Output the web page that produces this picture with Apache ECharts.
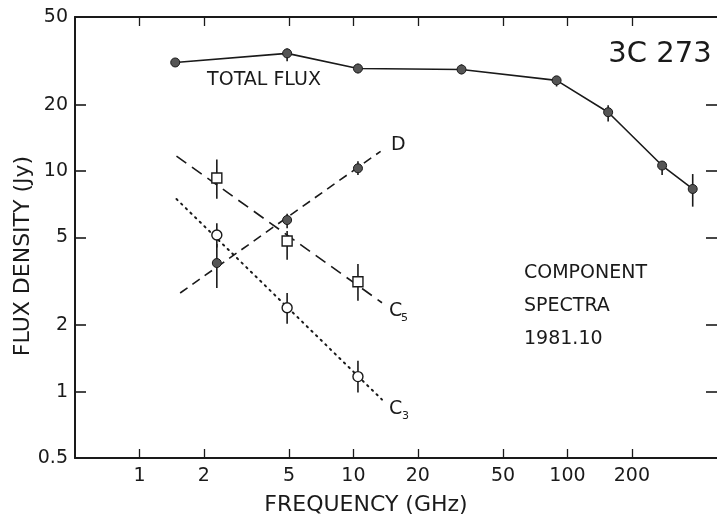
<!DOCTYPE html>
<html><head><meta charset="utf-8">
<script src="https://cdn.jsdelivr.net/npm/echarts@6/dist/echarts.min.js"></script>
<style>html,body{margin:0;padding:0;background:#fff}#c{width:717px;height:519px}</style>
</head><body><div id="c"></div>
<script>
// ---- data ----
const xTicks = [1, 2, 5, 10, 20, 50, 100, 200];
const yLabels = [0.5, 1, 2, 5, 10, 20, 50];
const yTicks = [1, 2, 5, 10, 20];

const totalFreq = [1.47, 4.9, 10.5, 32, 89, 155, 277, 385];
const totalFlux = [31.1, 34.2, 29.2, 28.9, 25.8, 18.5, 10.6, 8.3];
const totalLo   = [31.1, 31.5, 27.8, 27.5, 24.2, 16.8, 9.6, 6.9];
const totalHi   = [31.1, 36.0, 30.7, 30.5, 26.7, 19.9, 11.1, 9.7];

const compFreq = [2.3, 4.9, 10.5];
const dFlux  = [3.83, 6.0, 10.3];
const dLo    = [2.95, 5.5, 9.6];
const dHi    = [4.67, 6.4, 11.1];
const c5Flux = [9.3, 4.82, 3.15];
const c5Lo   = [7.5, 3.96, 2.58];
const c5Hi   = [11.3, 5.35, 3.79];
const c3Flux = [5.13, 2.40, 1.17];
const c3Lo   = [4.5, 2.03, 0.99];
const c3Hi   = [5.8, 2.8, 1.38];

const dFitX  = [1.55, 13.4];
const dFitY  = [2.8, 12.3];
const c5FitX = [1.49, 13.6];
const c5FitY = [11.7, 2.53];
const c3FitX = [1.49, 13.6];
const c3FitY = [7.47, 0.92];

// ---- helpers ----
const zip = (a, b) => a.map((v, i) => [v, b[i]]);
const errData = (x, lo, hi) => x.map((v, i) => [v, lo[i], hi[i]]);
const FONT = 'DejaVu Sans';
const INK = '#1a1a1a';

function errSeries(data) {
  return {
    type: 'custom', xAxisIndex: 0, yAxisIndex: 0, z: 1, silent: true,
    data: data,
    renderItem: function (params, api) {
      const p1 = api.coord([api.value(0), api.value(1)]);
      const p2 = api.coord([api.value(0), api.value(2)]);
      return { type: 'line', shape: { x1: p1[0], y1: p1[1], x2: p2[0], y2: p2[1] },
        style: { stroke: INK, lineWidth: 1.6 } };
    }
  };
}

const chart = echarts.init(document.getElementById('c'), null, { renderer: 'canvas' });
const axX = (pos, show) => ({
  type: 'log', logBase: 10, min: 0.5, max: 500, position: pos,
  axisLine: { show: true, lineStyle: { color: INK, width: 2 } },
  axisTick: { show: true, inside: true, length: 9, customValues: xTicks, lineStyle: { color: INK, width: 1.3 } },
  axisLabel: { show: show, customValues: xTicks, margin: 9, color: INK, fontFamily: FONT, fontSize: 19 },
  splitLine: { show: false }, minorTick: { show: false }
});
const axY = (pos, show) => ({
  type: 'log', logBase: 10, min: 0.5, max: 50, position: pos,
  axisLine: { show: show, lineStyle: { color: INK, width: 2 } },
  axisTick: { show: true, inside: true, length: 11, customValues: yTicks, lineStyle: { color: INK, width: 1.6 } },
  axisLabel: { show: show, customValues: yLabels, margin: 7, color: INK, fontFamily: FONT, fontSize: 19 },
  splitLine: { show: false }, minorTick: { show: false }
});

const option = {
  animation: false,
  backgroundColor: '#fff',
  grid: { left: 75, right: -3, top: 17, bottom: 61 },
  xAxis: [axX('bottom', true), axX('top', false)],
  yAxis: [axY('left', true), axY('right', false)],
  series: [
    errSeries(errData(totalFreq, totalLo, totalHi)),
    errSeries(errData(compFreq, dLo, dHi)),
    errSeries(errData(compFreq, c5Lo, c5Hi)),
    errSeries(errData(compFreq, c3Lo, c3Hi)),
    { type: 'line', z: 2, data: zip(dFitX, dFitY), symbol: 'none',
      lineStyle: { color: INK, width: 1.6, type: [9, 6] } },
    { type: 'line', z: 2, data: zip(c5FitX, c5FitY), symbol: 'none',
      lineStyle: { color: INK, width: 1.6, type: [12, 7] } },
    { type: 'line', z: 2, data: zip(c3FitX, c3FitY), symbol: 'none',
      lineStyle: { color: INK, width: 2, type: [1.5, 5], cap: 'round' } },
    { type: 'line', z: 3, data: zip(totalFreq, totalFlux), symbol: 'circle', symbolSize: 9,
      itemStyle: { color: '#555', borderColor: INK, borderWidth: 1 },
      lineStyle: { color: INK, width: 1.6 } },
    { type: 'scatter', z: 4, data: zip(compFreq, dFlux), symbol: 'circle', symbolSize: 9,
      itemStyle: { color: '#555', borderColor: INK, borderWidth: 1, opacity: 1 } },
    { type: 'scatter', z: 4, data: zip(compFreq, c5Flux), symbol: 'rect', symbolSize: 10,
      itemStyle: { color: '#fff', borderColor: INK, borderWidth: 1.4, opacity: 1 } },
    { type: 'scatter', z: 4, data: zip(compFreq, c3Flux), symbol: 'circle', symbolSize: 10,
      itemStyle: { color: '#fff', borderColor: INK, borderWidth: 1.4, opacity: 1 } }
  ],
  graphic: [
    { type: 'text', x: 366, y: 505, style: { text: 'FREQUENCY (GHz)', fill: INK, font: '22px "DejaVu Sans"', textAlign: 'center', textVerticalAlign: 'middle' } },
    { type: 'text', x: 23, y: 256, rotation: Math.PI / 2, style: { text: 'FLUX DENSITY (Jy)', fill: INK, font: '22px "DejaVu Sans"', textAlign: 'center', textVerticalAlign: 'middle' } },
    { type: 'text', x: 264, y: 80, style: { text: 'TOTAL FLUX', fill: INK, font: '19px "DejaVu Sans"', textAlign: 'center', textVerticalAlign: 'middle' } },
    { type: 'text', x: 660, y: 54, style: { text: '3C 273', fill: INK, font: '29px "DejaVu Sans"', textAlign: 'center', textVerticalAlign: 'middle' } },
    { type: 'text', x: 524, y: 273, style: { text: 'COMPONENT', fill: INK, font: '19px "DejaVu Sans"', textAlign: 'left', textVerticalAlign: 'middle' } },
    { type: 'text', x: 524, y: 306, style: { text: 'SPECTRA', fill: INK, font: '19px "DejaVu Sans"', textAlign: 'left', textVerticalAlign: 'middle' } },
    { type: 'text', x: 524, y: 339, style: { text: '1981.10', fill: INK, font: '19px "DejaVu Sans"', textAlign: 'left', textVerticalAlign: 'middle' } },
    { type: 'text', x: 391, y: 145, style: { text: 'D', fill: INK, font: '19px "DejaVu Sans"', textAlign: 'left', textVerticalAlign: 'middle' } },
    { type: 'text', x: 389, y: 311, style: { text: 'C', fill: INK, font: '19px "DejaVu Sans"', textAlign: 'left', textVerticalAlign: 'middle' } },
    { type: 'text', x: 401, y: 318, style: { text: '5', fill: INK, font: '11px "DejaVu Sans"', textAlign: 'left', textVerticalAlign: 'middle' } },
    { type: 'text', x: 389, y: 409, style: { text: 'C', fill: INK, font: '19px "DejaVu Sans"', textAlign: 'left', textVerticalAlign: 'middle' } },
    { type: 'text', x: 402, y: 416, style: { text: '3', fill: INK, font: '11px "DejaVu Sans"', textAlign: 'left', textVerticalAlign: 'middle' } }
  ]
};
chart.setOption(option);
</script></body></html>
